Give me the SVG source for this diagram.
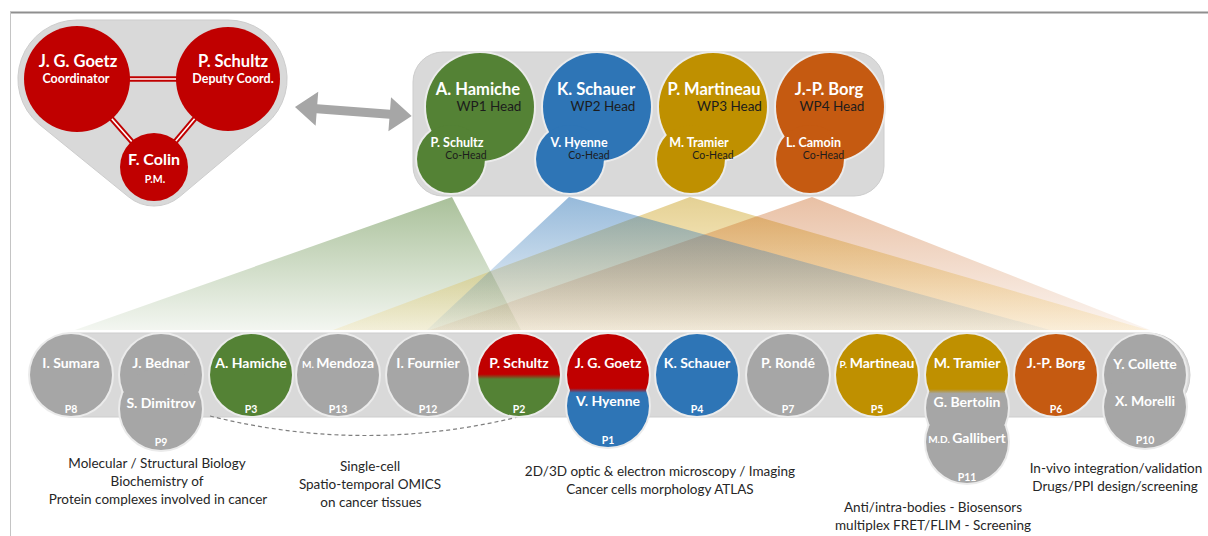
<svg xmlns="http://www.w3.org/2000/svg" width="1208" height="536" viewBox="0 0 1208 536">
<defs>
<style>
.t{font-family:Lato,"Liberation Sans",sans-serif;text-anchor:middle}
.w{fill:#ffffff;font-weight:700}
.k{fill:#1c1c1c;font-weight:400}
.d{fill:#262626;font-weight:400;font-size:13.5px}
.halo{fill:#ebebeb}
.gr{fill:#a6a6a6}
.red{fill:#c00000}
.grn{fill:#548235}
.blu{fill:#2e75b6}
.gld{fill:#bf9000}
.org{fill:#c55a11}
.bar{fill:#d9d9d9;stroke:#cdcdcd;stroke-width:1}
</style>
<linearGradient id="fG" x1="0" y1="0" x2="0" y2="1"><stop offset="0" stop-color="#548235" stop-opacity="0.5"/><stop offset="1" stop-color="#548235" stop-opacity="0.07"/></linearGradient>
<linearGradient id="fB" x1="0" y1="0" x2="0" y2="1"><stop offset="0" stop-color="#2e75b6" stop-opacity="0.5"/><stop offset="1" stop-color="#2e75b6" stop-opacity="0.05"/></linearGradient>
<linearGradient id="fY" x1="0" y1="0" x2="0" y2="1"><stop offset="0" stop-color="#bf9000" stop-opacity="0.42"/><stop offset="1" stop-color="#f0b000" stop-opacity="0.1"/></linearGradient>
<linearGradient id="fO" x1="0" y1="0" x2="0" y2="1"><stop offset="0" stop-color="#c55a11" stop-opacity="0.38"/><stop offset="1" stop-color="#c55a11" stop-opacity="0.06"/></linearGradient>
<linearGradient id="gP2" gradientUnits="userSpaceOnUse" x1="0" y1="334" x2="0" y2="416"><stop offset="0.49" stop-color="#c00000"/><stop offset="0.55" stop-color="#548235"/></linearGradient>
<linearGradient id="gP1" gradientUnits="userSpaceOnUse" x1="0" y1="334" x2="0" y2="447"><stop offset="0.48" stop-color="#c00000"/><stop offset="0.52" stop-color="#2e75b6"/></linearGradient>
<linearGradient id="gP11" gradientUnits="userSpaceOnUse" x1="0" y1="334" x2="0" y2="483"><stop offset="0.37" stop-color="#bf9000"/><stop offset="0.40" stop-color="#a6a6a6"/></linearGradient>
</defs>
<rect x="0" y="0" width="1208" height="536" fill="#ffffff"/>
<g id="frame">
<line x1="10" y1="12.5" x2="1208" y2="12.5" stroke="#8f8f8f" stroke-width="2"/>
<line x1="10.5" y1="12" x2="10.5" y2="536" stroke="#c4c4c4" stroke-width="1"/>
</g>
<g id="fans">
<polygon points="452,197 75,330 521,330" fill="url(#fG)"/>
<polygon points="690,197 333,330 1148,330" fill="url(#fY)"/>
<polygon points="812,197 430,330 1150,330" fill="url(#fO)"/>
<polygon points="569,197 427,330 1050,330" fill="url(#fB)"/>
</g>
<g id="coordination">
<path class="bar" d="M77,20 L228,20 A59,59 0 0 1 266,124.2 L179.8,196.6 A40,40 0 0 1 128.2,196.6 L39,124.2 A59,59 0 0 1 77,20 Z"/>
<g id="links">
<line x1="77" y1="79" x2="228" y2="79" stroke="#c00000" stroke-width="5.5"/>
<line x1="77" y1="79" x2="228" y2="79" stroke="#ffffff" stroke-width="1.6"/>
<line x1="77" y1="79" x2="154" y2="167" stroke="#c00000" stroke-width="5.5"/>
<line x1="77" y1="79" x2="154" y2="167" stroke="#ffffff" stroke-width="1.6"/>
<line x1="228" y1="79" x2="154" y2="167" stroke="#c00000" stroke-width="5.5"/>
<line x1="228" y1="79" x2="154" y2="167" stroke="#ffffff" stroke-width="1.6"/>
</g>
<g id="goetz"><circle class="red" cx="77" cy="79" r="53"/><text class="t w" x="78" y="67" font-size="16.5">J. G. Goetz</text><text class="t w" x="76" y="83" font-size="12.5">Coordinator</text></g>
<g id="schultz"><circle class="red" cx="228" cy="79" r="52"/><text class="t w" x="233" y="67" font-size="16.5">P. Schultz</text><text class="t w" x="233" y="83" font-size="12.5">Deputy Coord.</text></g>
<g id="colin"><circle class="red" cx="154" cy="167" r="34"/><text class="t w" x="154" y="165" font-size="16">F. Colin</text><text class="t w" x="155" y="183" font-size="10.5">P.M.</text></g>
</g>
<g id="arrow">
<polygon transform="translate(295,107) rotate(4.4)" points="0,0 22,-17 22,-4.5 95,-4.5 95,-17 117,0 95,17 95,4.5 22,4.5 22,17" fill="#a6a6a6"/>
</g>
<g id="wp-bar">
<rect class="bar" x="413" y="52" width="471" height="144" rx="30"/>
</g>
<g id="wp1">
<circle class="halo" cx="480" cy="107" r="56"/><circle class="halo" cx="451" cy="159" r="36"/>
<circle class="grn" cx="480" cy="107" r="54"/><circle class="grn" cx="451" cy="159" r="34"/>
<text class="t w" x="478" y="95" font-size="16.5">A. Hamiche</text><text class="t k" x="489" y="111" font-size="13.5">WP1 Head</text>
<text class="t w" x="457" y="146.5" font-size="12.5">P. Schultz</text><text class="t k" x="466" y="158.5" font-size="10.5">Co-Head</text>
</g>
<g id="wp2">
<circle class="halo" cx="597" cy="107" r="56"/><circle class="halo" cx="570" cy="159" r="36"/>
<circle class="blu" cx="597" cy="107" r="54"/><circle class="blu" cx="570" cy="159" r="34"/>
<text class="t w" x="596" y="95" font-size="16.5">K. Schauer</text><text class="t k" x="603" y="111" font-size="13.5">WP2 Head</text>
<text class="t w" x="579" y="146.5" font-size="12.5">V. Hyenne</text><text class="t k" x="589" y="158.5" font-size="10.5">Co-Head</text>
</g>
<g id="wp3">
<circle class="halo" cx="713" cy="107" r="56"/><circle class="halo" cx="691" cy="159" r="36"/>
<circle class="gld" cx="713" cy="107" r="54"/><circle class="gld" cx="691" cy="159" r="34"/>
<text class="t w" x="714" y="95" font-size="16.5">P. Martineau</text><text class="t k" x="729.5" y="111" font-size="13.5">WP3 Head</text>
<text class="t w" x="699" y="146.5" font-size="12.5">M. Tramier</text><text class="t k" x="713" y="158.5" font-size="10.5">Co-Head</text>
</g>
<g id="wp4">
<circle class="halo" cx="830" cy="107" r="56"/><circle class="halo" cx="810" cy="159" r="36"/>
<circle class="org" cx="830" cy="107" r="54"/><circle class="org" cx="810" cy="159" r="34"/>
<text class="t w" x="829" y="95" font-size="16.5">J.-P. Borg</text><text class="t k" x="832" y="111" font-size="13.5">WP4 Head</text>
<text class="t w" x="813.5" y="146.5" font-size="12.5">L. Camoin</text><text class="t k" x="823.5" y="158.5" font-size="10.5">Co-Head</text>
</g>
<g id="partner-bar">
<rect class="bar" x="30" y="333" width="1160" height="84" rx="42"/>
</g>
<g id="connectors">
<path d="M210,416 Q365,455 522,416" fill="none" stroke="#7f7f7f" stroke-width="1.2" stroke-dasharray="4,3"/>
</g>
<g id="P8"><circle class="halo" cx="71" cy="375" r="43"/><circle class="gr" cx="71" cy="375" r="41"/><text class="t w" x="71" y="368" font-size="14">I. Sumara</text><text class="t w" x="71" y="413" font-size="10.5">P8</text></g>
<g id="P9"><circle class="halo" cx="161" cy="375" r="43"/><circle class="halo" cx="161" cy="409" r="43"/><circle class="gr" cx="161" cy="375" r="41"/><circle class="gr" cx="161" cy="409" r="41"/><text class="t w" x="161" y="368" font-size="14">J. Bednar</text><text class="t w" x="161" y="408" font-size="14">S. Dimitrov</text><text class="t w" x="161" y="446" font-size="10.5">P9</text></g>
<g id="P3"><circle class="halo" cx="251" cy="375" r="43"/><circle class="grn" cx="251" cy="375" r="41"/><text class="t w" x="251" y="368" font-size="14">A. Hamiche</text><text class="t w" x="251" y="413" font-size="10.5">P3</text></g>
<g id="P13"><circle class="halo" cx="338" cy="375" r="43"/><circle class="gr" cx="338" cy="375" r="41"/><text class="t w" x="338" y="368" font-size="14"><tspan font-size="10">M. </tspan>Mendoza</text><text class="t w" x="338" y="413" font-size="10.5">P13</text></g>
<g id="P12"><circle class="halo" cx="428" cy="375" r="43"/><circle class="gr" cx="428" cy="375" r="41"/><text class="t w" x="428" y="368" font-size="14">I. Fournier</text><text class="t w" x="428" y="413" font-size="10.5">P12</text></g>
<g id="P2"><circle class="halo" cx="519" cy="375" r="43"/><circle cx="519" cy="375" r="41" fill="url(#gP2)"/><text class="t w" x="519" y="368" font-size="14">P. Schultz</text><text class="t w" x="519" y="413" font-size="10.5">P2</text></g>
<g id="P1"><circle class="halo" cx="608" cy="375" r="43"/><circle class="halo" cx="608" cy="406" r="43"/><circle cx="608" cy="375" r="41" fill="url(#gP1)"/><circle cx="608" cy="406" r="41" fill="url(#gP1)"/><text class="t w" x="608" y="368" font-size="14">J. G. Goetz</text><text class="t w" x="608" y="406" font-size="14">V. Hyenne</text><text class="t w" x="608" y="444" font-size="10.5">P1</text></g>
<g id="P4"><circle class="halo" cx="697" cy="375" r="43"/><circle class="blu" cx="697" cy="375" r="41"/><text class="t w" x="697" y="368" font-size="14">K. Schauer</text><text class="t w" x="697" y="413" font-size="10.5">P4</text></g>
<g id="P7"><circle class="halo" cx="788" cy="375" r="43"/><circle class="gr" cx="788" cy="375" r="41"/><text class="t w" x="788" y="368" font-size="14">P. Rondé</text><text class="t w" x="788" y="413" font-size="10.5">P7</text></g>
<g id="P5"><circle class="halo" cx="877" cy="375" r="43"/><circle class="gld" cx="877" cy="375" r="41"/><text class="t w" x="877" y="368" font-size="14"><tspan font-size="10">P. </tspan>Martineau</text><text class="t w" x="877" y="413" font-size="10.5">P5</text></g>
<g id="P11"><circle class="halo" cx="967" cy="375" r="43"/><circle class="halo" cx="967" cy="408" r="43"/><circle class="halo" cx="967" cy="442" r="43"/><circle cx="967" cy="375" r="41" fill="url(#gP11)"/><circle cx="967" cy="408" r="41" fill="url(#gP11)"/><circle cx="967" cy="442" r="41" fill="url(#gP11)"/><text class="t w" x="967" y="368" font-size="14">M. Tramier</text><text class="t w" x="967" y="407" font-size="14">G. Bertolin</text><text class="t w" x="967" y="443" font-size="14"><tspan font-size="10">M.D. </tspan>Gallibert</text><text class="t w" x="967" y="481" font-size="10.5">P11</text></g>
<g id="P6"><circle class="halo" cx="1056" cy="375" r="43"/><circle class="org" cx="1056" cy="375" r="41"/><text class="t w" x="1056" y="368" font-size="14">J.-P. Borg</text><text class="t w" x="1056" y="413" font-size="10.5">P6</text></g>
<g id="P10"><circle class="halo" cx="1145" cy="375" r="43"/><circle class="halo" cx="1145" cy="407" r="43"/><circle class="gr" cx="1145" cy="375" r="41"/><circle class="gr" cx="1145" cy="407" r="41"/><text class="t w" x="1145" y="369" font-size="14">Y. Collette</text><text class="t w" x="1145" y="406" font-size="14">X. Morelli</text><text class="t w" x="1145" y="444" font-size="10.5">P10</text></g>
<g id="descriptions">
<text class="t d" x="157" y="468">Molecular / Structural Biology</text>
<text class="t d" x="157" y="486">Biochemistry of</text>
<text class="t d" x="158" y="504">Protein complexes involved in cancer</text>
<text class="t d" x="370" y="471">Single-cell</text>
<text class="t d" x="370" y="489">Spatio-temporal OMICS</text>
<text class="t d" x="371" y="507">on cancer tissues</text>
<text class="t d" x="660" y="476">2D/3D optic &amp; electron microscopy / Imaging</text>
<text class="t d" x="660" y="494">Cancer cells morphology ATLAS</text>
<text class="t d" x="933" y="512">Anti/intra-bodies - Biosensors</text>
<text class="t d" x="933" y="530">multiplex FRET/FLIM - Screening</text>
<text class="t d" x="1116" y="473">In-vivo integration/validation</text>
<text class="t d" x="1115" y="491">Drugs/PPI design/screening</text>
</g>
</svg>
